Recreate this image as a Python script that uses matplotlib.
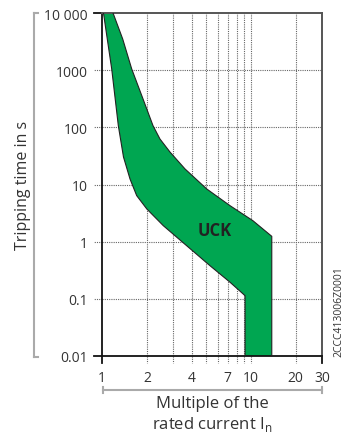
import matplotlib
matplotlib.use("Agg")
import matplotlib.pyplot as plt
import matplotlib.transforms as mtransforms

plt.rcParams['font.family'] = ['Open Sans', 'DejaVu Sans']
plt.rcParams['mathtext.fontset'] = 'custom'
plt.rcParams['mathtext.rm'] = 'Open Sans'

# Data
upper_x = [1.186, 1.377, 1.583, 1.886, 2.20, 2.45, 2.86, 3.61, 5.05, 7.24, 10.3, 13.8, 13.8]
upper_t = [10000, 3515, 1050, 313, 107, 62.5, 37, 18.7, 8.35, 4.26, 2.33, 1.24, 0.01]
lower_x = [1.023, 1.085, 1.162, 1.287, 1.394, 1.542, 1.71, 2.0, 2.58, 3.70, 5.31, 7.24, 9.13, 9.13]
lower_t = [10000, 3515, 1050, 107, 30.3, 12.5, 6.38, 3.73, 1.905, 0.851, 0.38, 0.195, 0.1136, 0.01]

x_ticks = [1, 2, 4, 7, 10, 20, 30]
x_ticklabels = ['1', '2', '4', '7', '10', '20', '30']
x_grid = [2, 3, 4, 5, 6, 7, 8, 9, 10, 20]
y_ticks = [0.01, 0.1, 1, 10, 100, 1000, 10000]
y_ticklabels = ['0.01', '0.1', '1', '10', '100', '1000', '10 000']
y_grid = [0.1, 1, 10, 100, 1000]

W, H = 352, 439
fig = plt.figure(figsize=(W / 100, H / 100), dpi=100)
ax_l, ax_r, ax_t, ax_b = 102, 322, 14, 357
ax = fig.add_axes([ax_l / W, 1 - ax_b / H, (ax_r - ax_l) / W, (ax_b - ax_t) / H])
ax.set_xscale('log')
ax.set_yscale('log')
ax.set_xlim(1, 30)
ax.set_ylim(0.01, 10000)

green = '#00a651'
poly_x = lower_x + upper_x[::-1]
poly_t = lower_t + upper_t[::-1]
ax.fill(poly_x, poly_t, facecolor=green, edgecolor='none', zorder=2)
ax.plot(lower_x, lower_t, color='#222222', lw=0.8, zorder=3, solid_joinstyle='round')
ax.plot(upper_x, upper_t, color='#222222', lw=0.8, zorder=3, solid_joinstyle='round')

grid_col = '#666666'
for xv in x_grid:
    ax.axvline(xv, color=grid_col, lw=0.8, ls=(0, (1, 1)), zorder=1)
for yv in y_grid:
    ax.axhline(yv, color=grid_col, lw=0.8, ls=(0, (1, 1)), zorder=1)

# tick extensions outside axes
bx = mtransforms.blended_transform_factory(ax.transData, ax.transAxes)
by = mtransforms.blended_transform_factory(ax.transAxes, ax.transData)
ext_x = 7 / (ax_b - ax_t)
ext_y = 8 / (ax_r - ax_l)
for xv in x_grid:
    ax.plot([xv, xv], [0, -ext_x], transform=bx, color=grid_col, lw=0.8,
            ls=(0, (1, 1)), clip_on=False)
for xv in [1, 30]:
    ax.plot([xv, xv], [0, -ext_x], transform=bx, color='#111111', lw=1.3, clip_on=False)
for yv in y_grid:
    ax.plot([0, -ext_y], [yv, yv], transform=by, color=grid_col, lw=0.8,
            ls=(0, (1, 1)), clip_on=False)
for yv in [0.01, 10000]:
    ax.plot([0, -ext_y], [yv, yv], transform=by, color='#111111', lw=1.3, clip_on=False)

ax.set_xticks(x_ticks)
ax.set_xticklabels(x_ticklabels)
ax.set_yticks(y_ticks)
ax.set_yticklabels(y_ticklabels)
ax.minorticks_off()
ax.tick_params(axis='both', length=0, labelsize=10, labelcolor='#333333')
ax.tick_params(axis='x', pad=10)
ax.tick_params(axis='y', pad=10)

for s in ['left', 'bottom']:
    ax.spines[s].set_color('#111111')
    ax.spines[s].set_linewidth(1.3)
for s in ['top', 'right']:
    ax.spines[s].set_color('#555555')
    ax.spines[s].set_linewidth(1.4)

ax.text(5.73, 1.6, 'UCK', fontsize=12, fontweight='bold', color='#222222',
        ha='center', va='center', zorder=4)

# brackets
fig.add_artist(plt.Line2D([34 / W, 34 / W], [1 - 14 / H, 1 - 358 / H], color='#aaaaaa', lw=1.5))
fig.add_artist(plt.Line2D([34 / W, 38 / W], [1 - 14 / H, 1 - 14 / H], color='#aaaaaa', lw=1.5))
fig.add_artist(plt.Line2D([34 / W, 38 / W], [1 - 358 / H, 1 - 358 / H], color='#aaaaaa', lw=1.5))
fig.add_artist(plt.Line2D([103 / W, 322 / W], [1 - 391 / H, 1 - 391 / H], color='#aaaaaa', lw=1.5))
fig.add_artist(plt.Line2D([103 / W, 103 / W], [1 - 388 / H, 1 - 394 / H], color='#aaaaaa', lw=1.5))
fig.add_artist(plt.Line2D([322 / W, 322 / W], [1 - 388 / H, 1 - 394 / H], color='#aaaaaa', lw=1.5))

fig.text(23 / W, 1 - 185 / H, 'Tripping time in s', rotation=90, fontsize=11.5,
         color='#333333', ha='center', va='center')
fig.text(212 / W, 1 - 404 / H, 'Multiple of the', fontsize=12,
         color='#333333', ha='center', va='center')
fig.text(212 / W, 1 - 425 / H, 'rated current I$_\\mathregular{n}$', fontsize=12,
         color='#333333', ha='center', va='center')
fig.text(339 / W, 1 - 357 / H, '2CCC413006Z0001', rotation=90, fontsize=7.5,
         color='#333333', ha='center', va='bottom')

fig.savefig('out.png', dpi=100)
